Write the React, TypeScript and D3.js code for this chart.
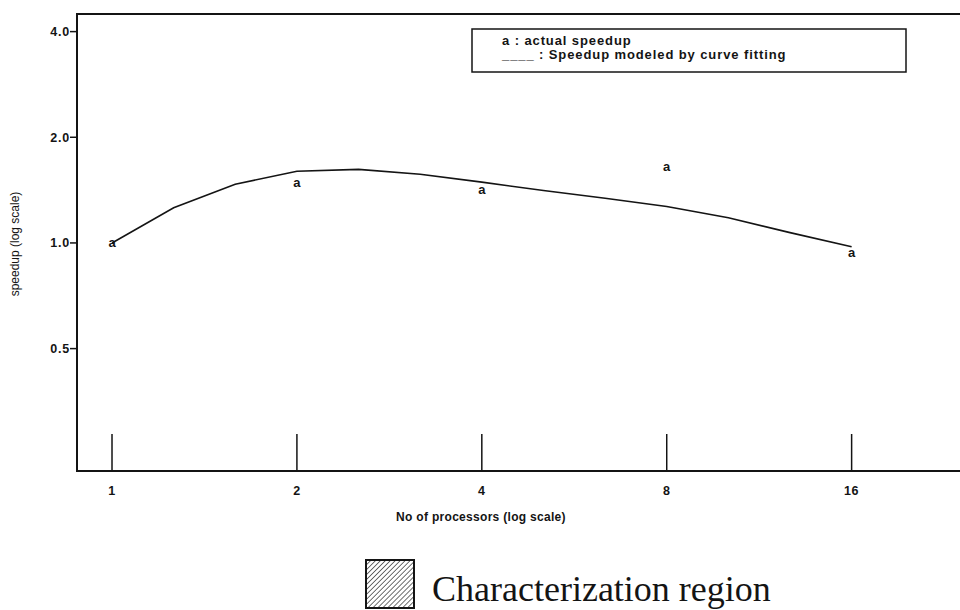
import React from "react";
import * as d3 from "d3";

// Processor counts on the horizontal axis
const procTicks = [1, 2, 4, 8, 16];
const procTickLabels = ["1", "2", "4", "8", "16"];

// Speedup axis ticks
const speedTicks = [0.5, 1.0, 2.0, 4.0];
const speedTickLabels = ["0.5", "1.0", "2.0", "4.0"];

// Measured speedup ("a" markers)
const actualProcs = [1, 2, 4, 8, 16];
const actualSpeedup = [1.0, 1.48, 1.415, 1.65, 0.94];

// Curve-fitted model, sampled every third of an octave
const modelProcs = [1, 1.26, 1.587, 2, 2.52, 3.175, 4, 5.04, 6.35, 8, 10.08, 12.7, 16];
const modelSpeedup = [1.0, 1.26, 1.47, 1.6, 1.62, 1.57, 1.49, 1.41, 1.34, 1.27, 1.18, 1.07, 0.975];

const W = 960;
const H = 610;
const left = 77;
const top = 14;
const bottom = 471;
const right = 962;

const sans = "'Liberation Sans', Arial, Helvetica, sans-serif";
const ink = "#141414";

export default function App() {
  const x = d3.scaleLog().base(2).domain([0.877, 24.2]).range([left, right]);
  const y = d3.scaleLog().base(2).domain([0.224, 4.49]).range([bottom, top]);

  const line = d3
    .line<number>()
    .x((_, i) => x(modelProcs[i]))
    .y((d) => y(d));

  const sq = { x: 366, y: 560, s: 48 };

  return (
    <svg
      width={W}
      height={H}
      viewBox={`0 0 ${W} ${H}`}
      style={{ position: "absolute", left: 0, top: 0, background: "#fff" }}
    >
      <defs>
        <pattern id="hatch" width="3.5" height="3.5" patternUnits="userSpaceOnUse" patternTransform="rotate(45)">
          <line x1="0" y1="0" x2="0" y2="3.5" stroke="#222" strokeWidth="1.3" />
        </pattern>
      </defs>

      {/* plot frame (open on the right) */}
      <path
        d={`M${right},${top}H${left}V${bottom}H${right}`}
        fill="none"
        stroke={ink}
        strokeWidth={2}
      />

      {/* y axis ticks */}
      {speedTicks.map((v, i) => (
        <g key={`yt${i}`}>
          <line x1={left - 7} x2={left} y1={y(v)} y2={y(v)} stroke={ink} strokeWidth={1.5} />
          <text
            x={left - 7}
            y={y(v)}
            dy="0.35em"
            textAnchor="end"
            fontFamily={sans}
            fontWeight="bold"
            fontSize={12.5}
            letterSpacing={0.8}
            fill={ink}
          >
            {speedTickLabels[i]}
          </text>
        </g>
      ))}

      {/* x axis ticks (inside) */}
      {procTicks.map((v, i) => (
        <g key={`xt${i}`}>
          <line x1={x(v)} x2={x(v)} y1={bottom} y2={bottom - 37} stroke={ink} strokeWidth={1.5} />
          <text
            x={x(v)}
            y={bottom + 20}
            dy="0.35em"
            textAnchor="middle"
            fontFamily={sans}
            fontWeight="bold"
            fontSize={12.5}
            letterSpacing={0.6}
            fill={ink}
          >
            {procTickLabels[i]}
          </text>
        </g>
      ))}

      {/* axis titles */}
      <text
        x={481}
        y={517}
        dy="0.35em"
        textAnchor="middle"
        fontFamily={sans}
        fontWeight="bold"
        fontSize={12}
        letterSpacing={0.3}
        fill={ink}
      >
        No of processors (log scale)
      </text>
      <text
        transform={`translate(15,244) rotate(-90)`}
        dy="0.35em"
        textAnchor="middle"
        fontFamily={sans}
        fontSize={12}
        fill={ink}
      >
        speedup (log scale)
      </text>

      {/* fitted curve */}
      <path d={line(modelSpeedup) || ""} fill="none" stroke={ink} strokeWidth={1.6} />

      {/* actual speedup markers */}
      {actualProcs.map((p, i) => (
        <text
          key={`a${i}`}
          x={x(p)}
          y={y(actualSpeedup[i])}
          dy="0.32em"
          textAnchor="middle"
          fontFamily={sans}
          fontWeight="bold"
          fontSize={13}
          fill={ink}
        >
          a
        </text>
      ))}

      {/* legend */}
      <rect x={472} y={29} width={434} height={43} fill="none" stroke={ink} strokeWidth={1.5} />
      <text x={502} y={45} fontFamily={sans} fontWeight="bold" fontSize={13} letterSpacing={0.9} fill={ink}>
        a : actual speedup
      </text>
      <text x={502} y={59} fontFamily={sans} fontWeight="bold" fontSize={13} letterSpacing={0.9} fill={ink}>
        ____ : Speedup modeled by curve fitting
      </text>

      {/* characterization region key */}
      <rect x={sq.x} y={sq.y} width={sq.s} height={sq.s} fill="url(#hatch)" stroke={ink} strokeWidth={2} />
      <text x={432} y={601} fontFamily="'Liberation Serif', 'Times New Roman', serif" fontSize={36} fill={ink}>
        Characterization region
      </text>
    </svg>
  );
}
